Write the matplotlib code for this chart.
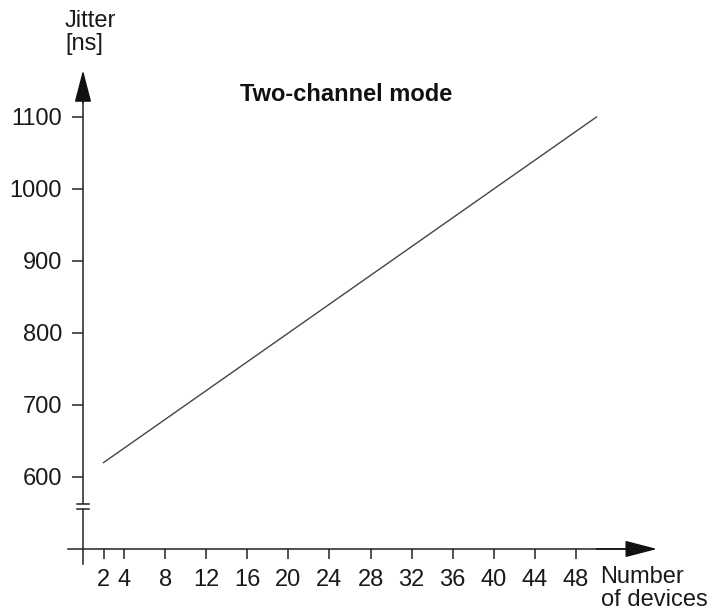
import matplotlib.pyplot as plt
from matplotlib.patches import FancyArrowPatch

plt.rcParams['font.family'] = ['Liberation Sans', 'DejaVu Sans']

# data
devices = [2, 50]
jitter = [620, 1100]
x_ticks = [2, 4, 8, 12, 16, 20, 24, 28, 32, 36, 40, 44, 48]
y_ticks = [600, 700, 800, 900, 1000, 1100]
title = 'Two-channel mode'
y_label = 'Jitter\n[ns]'
x_label = 'Number\nof devices'

fig = plt.figure(figsize=(7.12, 6.14), dpi=100)
ax = fig.add_axes([0, 0, 1, 1])
ax.set_xlim(-8.08, 61.25)
ax.set_ylim(409.7, 1262.5)

X0, Y0 = 0, 500  # where the axes cross (y axis is broken)
ink = '#222222'

for s in ('top', 'right'):
    ax.spines[s].set_visible(False)
ax.spines['left'].set_position(('data', X0))
ax.spines['bottom'].set_position(('data', Y0))
ax.spines['left'].set_bounds(479, 1140)
ax.spines['bottom'].set_bounds(-1.46, 53)
for s in ('left', 'bottom'):
    ax.spines[s].set_linewidth(1.1)
    ax.spines[s].set_color(ink)

ax.set_xticks(x_ticks)
ax.set_yticks(y_ticks)
ax.tick_params(axis='x', direction='out', length=7.5, width=1.1, color=ink,
               labelsize=17, pad=7, labelcolor='#1a1a1a')
ax.tick_params(axis='y', direction='out', length=8, width=1.1, color=ink,
               labelsize=17, pad=7, labelcolor='#1a1a1a')

# arrow heads
for start, end in (((X0, 1120), (X0, 1165)), ((50, Y0), (55.9, Y0))):
    ax.add_patch(FancyArrowPatch(start, end, arrowstyle='-|>,head_length=20,head_width=5.2',
                                 mutation_scale=1, color='#111111', lw=1.1,
                                 shrinkA=0, shrinkB=0, zorder=5))

# axis break
ax.plot([X0, X0], [555.5, 562.5], color='white', lw=3, zorder=4, solid_capstyle='butt')
for yb in (555.5, 562.5):
    ax.plot([-0.6, 0.6], [yb, yb], color=ink, lw=1.1, zorder=5, clip_on=False)

ax.plot(devices, jitter, color='#444444', lw=1.0)

ax.text(25.6, 1122, title, fontsize=17, fontweight='bold', ha='center', va='baseline', color='#111111')
ax.text(-1.75, 1249, y_label, fontsize=17, ha='left', va='top', color='#1a1a1a', linespacing=1.05)
ax.text(50.4, 476, x_label, fontsize=17, ha='left', va='top', color='#1a1a1a', linespacing=1.05)

fig.savefig('out.png', dpi=100)
